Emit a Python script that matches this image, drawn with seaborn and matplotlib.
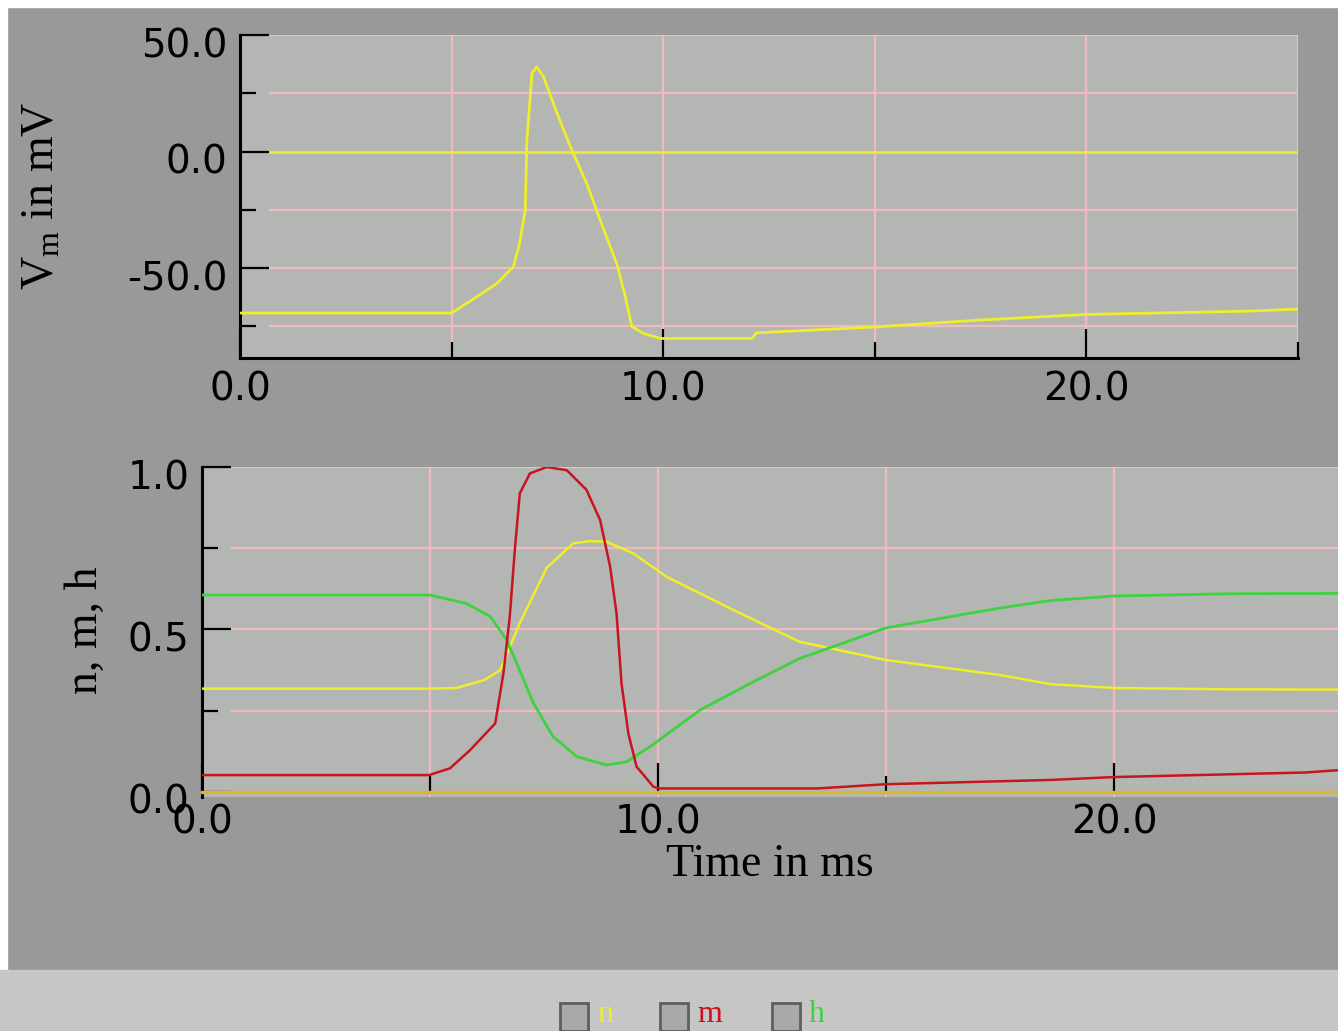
import numpy as np
import pandas as pd
import matplotlib
matplotlib.use("Agg")
import matplotlib.pyplot as plt
import matplotlib.transforms as mtransforms
from matplotlib.patches import Rectangle
import seaborn as sns

# ---------------- data ----------------
t_v = [0.0, 5.0, 5.5, 6.07, 6.46, 6.6, 6.74, 6.78, 6.9, 7.01, 7.17, 7.5, 7.84, 8.2, 8.51,
       8.9, 9.1, 9.26, 9.53, 9.93, 11.0, 12.1, 12.2, 15.0, 17.5, 20.0, 22.5, 24.0, 25.0]
v_m = [-69.3, -69.3, -63.5, -56.6, -49.4, -40.0, -25.1, 4.9, 33.6, 36.4, 32.1, 16.0, 0.6,
       -14.0, -29.4, -48.0, -62.0, -75.2, -78.0, -80.2, -80.2, -80.2, -77.8, -75.3, -72.3,
       -69.9, -69.0, -68.4, -67.6]

t_n = [0.0, 5.0, 5.58, 6.2, 6.54, 6.97, 7.56, 8.14, 8.5, 8.87, 9.46, 10.19, 11.65, 13.11,
       15.0, 17.5, 18.6, 20.0, 22.5, 25.0]
n_val = [0.318, 0.318, 0.32, 0.345, 0.375, 0.52, 0.69, 0.765, 0.772, 0.77, 0.734, 0.662,
         0.56, 0.462, 0.406, 0.36, 0.332, 0.32, 0.316, 0.315]

t_m = [0.0, 4.98, 5.44, 5.88, 6.43, 6.61, 6.75, 6.86, 6.97, 7.19, 7.56, 8.0, 8.43, 8.73,
       8.95, 9.09, 9.2, 9.35, 9.53, 9.9, 10.04, 13.5, 15.0, 18.6, 20.0, 24.2, 25.0]
m_val = [0.052, 0.052, 0.073, 0.129, 0.211, 0.365, 0.54, 0.745, 0.919, 0.98, 1.0, 0.99,
         0.93, 0.837, 0.693, 0.55, 0.334, 0.18, 0.078, 0.016, 0.011, 0.011, 0.024, 0.037,
         0.046, 0.06, 0.068]

t_h = [0.0, 5.0, 5.8, 6.32, 6.68, 6.9, 7.27, 7.7, 8.22, 8.87, 9.31, 9.82, 10.92, 12.02,
       13.11, 15.0, 17.5, 18.6, 20.0, 22.5, 25.0]
h_val = [0.606, 0.606, 0.58, 0.54, 0.468, 0.396, 0.273, 0.17, 0.109, 0.083, 0.093, 0.139,
         0.252, 0.334, 0.411, 0.505, 0.566, 0.589, 0.603, 0.61, 0.611]

x_major = [0, 10, 20]
x_minor = [5, 15, 25]
x_major_labels = ["0.0", "10.0", "20.0"]
v_major = [-50, 0, 50]
v_minor = [-75, -25, 25]
v_major_labels = ["-50.0", "0.0", "50.0"]
g_major = [0.0, 0.5, 1.0]
g_minor = [0.25, 0.75]
g_major_labels = ["0.0", "0.5", "1.0"]
legend_names = ["n", "m", "h"]

# ---------------- style ----------------
W, H, DPI = 1338, 1031, 100
FIG_BG = "#999999"
AX_BG = "#b4b6b3"
GRID = "#f2b9c2"
YEL = "#eeee2c"
RED = "#c8141e"
GRN = "#3ed23e"
GOLD = "#d8b830"
TICK_SIZE = 28

plt.rcParams["mathtext.fontset"] = "custom"
plt.rcParams["mathtext.rm"] = "Liberation Serif"
plt.rcParams["mathtext.it"] = "Liberation Serif:italic"

fig = plt.figure(figsize=(W / DPI, H / DPI), dpi=DPI, facecolor=FIG_BG)

# borders / strips
fig.patches.append(Rectangle((0, 1 - 7 / H), 1, 7 / H, transform=fig.transFigure,
                             color="white", zorder=0))
fig.patches.append(Rectangle((0, 61 / H), 7 / W, 1, transform=fig.transFigure,
                             color="white", zorder=0))
fig.patches.append(Rectangle((0, 0), 1, 61 / H, transform=fig.transFigure,
                             color="#c6c6c6", zorder=0))


def px_axes(l, t, r, b):
    return fig.add_axes([l / W, 1 - b / H, (r - l) / W, (b - t) / H])


ax1 = px_axes(240, 35, 1298, 358)
ax2 = px_axes(202, 467, 1342, 797)

LAB_FONT = dict(family="Liberation Serif", size=33)

for ax in (ax1, ax2):
    ax.set_facecolor(AX_BG)
    ax.spines["top"].set_visible(False)
    ax.spines["right"].set_visible(False)
    ax.spines["left"].set_color("black")
    ax.spines["left"].set_linewidth(2.2)
    ax.tick_params(which="both", direction="in", color="black", width=1.6,
                   labelsize=TICK_SIZE, pad=9)
    ax.tick_params(which="major", length=21)
    ax.tick_params(which="minor", length=11.5)
    ax.set_xlim(0, 25)
    ax.set_xticks(x_major, x_major_labels)
    ax.set_xticks(x_minor, minor=True)

# ---- top panel ----
ax1.set_ylim(-88.6, 50)
ax1.spines["bottom"].set_color("black")
ax1.spines["bottom"].set_linewidth(2.2)
ax1.set_yticks(v_major, v_major_labels)
ax1.set_yticks(v_minor, minor=True)
off1 = 30 / 1058
for yv in sorted(v_major + v_minor):
    if yv == 0:
        continue
    ax1.axhline(yv, xmin=off1, color=GRID, lw=1.6, zorder=1)
for xv in sorted(x_major + x_minor):
    if xv == 0:
        continue
    ax1.axvline(xv, color=GRID, lw=1.6, zorder=1)
ax1.axhline(0, xmin=off1, color=YEL, lw=1.8, zorder=2)
sns.lineplot(x=t_v, y=v_m, ax=ax1, color=YEL, lw=2.0, estimator=None, sort=False,
             legend=False, zorder=3)

# ---- bottom panel ----
ax2.set_ylim(-0.0154, 1.0)
ax2.spines["bottom"].set_position(("data", 0))
ax2.spines["bottom"].set_color(GOLD)
ax2.spines["bottom"].set_linewidth(2.4)
ax2.tick_params(axis="x", pad=8)
ax2.set_yticks(g_major, g_major_labels)
ax2.set_yticks(g_minor, minor=True)
off2 = 30 / 1140
for yv in sorted(g_major + g_minor):
    if yv == 0:
        continue
    ax2.axhline(yv, xmin=off2, color=GRID, lw=1.6, zorder=1)
for xv in sorted(x_major + x_minor):
    if xv == 0:
        continue
    ax2.axvline(xv, color=GRID, lw=1.6, zorder=1)
sns.lineplot(x=t_n, y=n_val, ax=ax2, color=YEL, lw=1.8, estimator=None, sort=False,
             legend=False, zorder=3)
sns.lineplot(x=t_h, y=h_val, ax=ax2, color=GRN, lw=2.0, estimator=None, sort=False,
             legend=False, zorder=3)
sns.lineplot(x=t_m, y=m_val, ax=ax2, color=RED, lw=1.8, estimator=None, sort=False,
             legend=False, zorder=4)

for ax in (ax1, ax2):
    ax.set_xlabel("")
    ax.set_ylabel("")
    for lab in ax.get_xticklabels() + ax.get_yticklabels():
        lab.set_fontfamily("DejaVu Sans")
        lab.set_fontsize(TICK_SIZE)
    off = mtransforms.ScaledTranslation(0, -7 / DPI, fig.dpi_scale_trans)
    for lab in ax.get_yticklabels():
        lab.set_transform(lab.get_transform() + off)


def ftext(x, y, s, **kw):
    fig.text(x / W, 1 - y / H, s, **kw)


ftext(42, 196, r"V$_\mathrm{m}$ in mV", rotation=90, ha="center", va="center", **LAB_FONT)
ftext(86, 630, "n, m, h", rotation=90, ha="center", va="center", **LAB_FONT)
ftext(770, 865, "Time in ms", ha="center", va="center", **LAB_FONT)

# checkbox legend in the bottom strip
box_x = [560, 660, 772]
txt_x = [597, 697, 809]
cols = [YEL, RED, GRN]
for bx, tx, name, c in zip(box_x, txt_x, legend_names, cols):
    fig.patches.append(Rectangle((bx / W, 0), 28 / W, (H - 1003) / H,
                                 transform=fig.transFigure, facecolor="#a9a9a9",
                                 edgecolor="#5e5e5e", lw=2, zorder=2))
    ftext(tx, 1029, name, ha="left", va="bottom", color=c, family="Liberation Serif",
          size=23)

fig.savefig("out.png", dpi=DPI, facecolor=FIG_BG)
